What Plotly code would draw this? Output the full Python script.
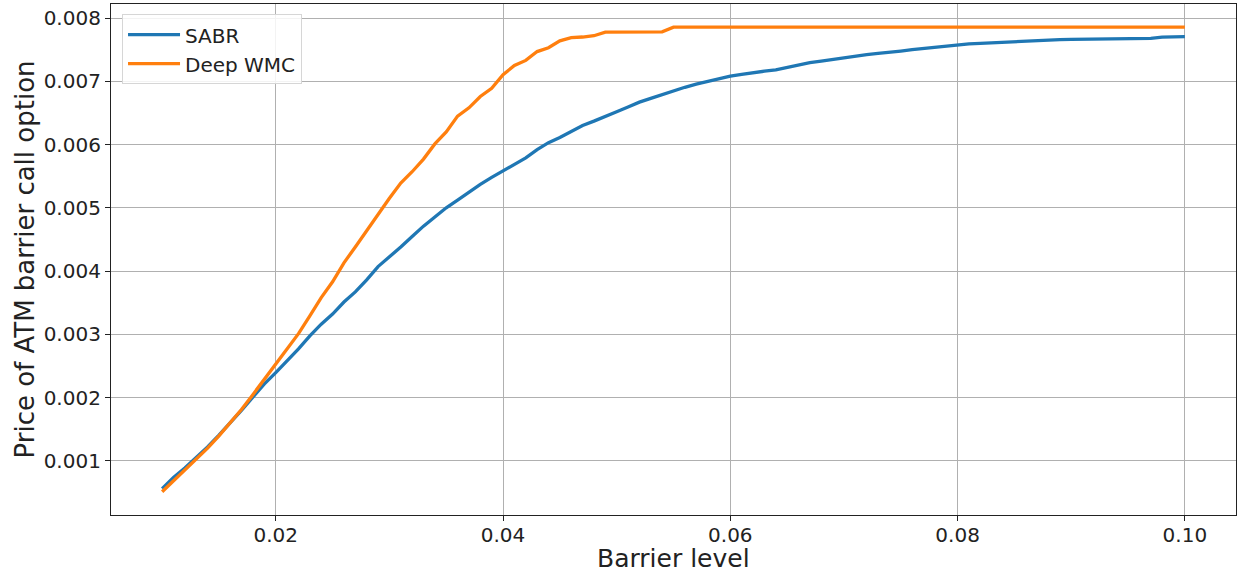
import plotly.graph_objects as go

barrier = [0.010, 0.011, 0.012, 0.013, 0.014, 0.015, 0.016, 0.017, 0.018, 0.019,
           0.020, 0.021, 0.022, 0.023, 0.024, 0.025, 0.026, 0.027, 0.028, 0.029,
           0.030, 0.031, 0.032, 0.033, 0.034, 0.035, 0.036, 0.037, 0.038, 0.039,
           0.040, 0.041, 0.042, 0.043, 0.044, 0.045, 0.046, 0.047, 0.048, 0.049,
           0.050, 0.051, 0.052, 0.053, 0.054, 0.055, 0.056, 0.057, 0.058, 0.059,
           0.060, 0.061, 0.062, 0.063, 0.064, 0.065, 0.066, 0.067, 0.068, 0.069,
           0.070, 0.071, 0.072, 0.073, 0.074, 0.075, 0.076, 0.077, 0.078, 0.079,
           0.080, 0.081, 0.082, 0.083, 0.084, 0.085, 0.086, 0.087, 0.088, 0.089,
           0.090, 0.091, 0.092, 0.093, 0.094, 0.095, 0.096, 0.097, 0.098, 0.099,
           0.100]

sabr = [0.000560, 0.000735, 0.000885, 0.001050, 0.001220, 0.001405, 0.001600, 0.001800, 0.002010, 0.002215,
        0.002395, 0.002580, 0.002770, 0.002975, 0.003160, 0.003320, 0.003510, 0.003670, 0.003860, 0.004070,
        0.004220, 0.004380, 0.004545, 0.004710, 0.004855, 0.005000, 0.005120, 0.005250, 0.005370, 0.005480,
        0.005580, 0.005690, 0.005790, 0.005920, 0.006030, 0.006110, 0.006200, 0.006300, 0.006370, 0.006440,
        0.006520, 0.006595, 0.006670, 0.006730, 0.006790, 0.006850, 0.006905, 0.006955, 0.007000, 0.007040,
        0.007080, 0.007110, 0.007140, 0.007160, 0.007180, 0.007220, 0.007260, 0.007295, 0.007320, 0.007345,
        0.007380, 0.007405, 0.007420, 0.007440, 0.007465, 0.007478, 0.007500, 0.007520, 0.007540, 0.007560,
        0.007579, 0.007590, 0.007600, 0.007610, 0.007618, 0.007625, 0.007635, 0.007645, 0.007655, 0.007660,
        0.007663, 0.007665, 0.007666, 0.007667, 0.007668, 0.007670, 0.007672, 0.007678, 0.007698, 0.007703,
        0.007705]

deep_wmc = [0.000510, 0.000680, 0.000850, 0.001030, 0.001200, 0.001395, 0.001600, 0.001815, 0.002050, 0.002290,
            0.002526, 0.002760, 0.003010, 0.003290, 0.003580, 0.003830, 0.004130, 0.004380, 0.004640, 0.004900,
            0.005150, 0.005390, 0.005570, 0.005770, 0.006010, 0.006200, 0.006450, 0.006580, 0.006760, 0.006890,
            0.007105, 0.007250, 0.007330, 0.007470, 0.007530, 0.007640, 0.007690, 0.007700, 0.007720, 0.007778,
            0.007780, 0.007780, 0.007780, 0.007780, 0.007782, 0.007855, 0.007855, 0.007855, 0.007855, 0.007855,
            0.007855, 0.007855, 0.007855, 0.007855, 0.007855, 0.007855, 0.007855, 0.007855, 0.007855, 0.007855,
            0.007855, 0.007855, 0.007855, 0.007855, 0.007855, 0.007855, 0.007855, 0.007855, 0.007855, 0.007855,
            0.007855, 0.007855, 0.007855, 0.007855, 0.007855, 0.007855, 0.007855, 0.007855, 0.007855, 0.007855,
            0.007855, 0.007855, 0.007855, 0.007855, 0.007855, 0.007855, 0.007855, 0.007855, 0.007855, 0.007855,
            0.007855]

x_ticks = [0.02, 0.04, 0.06, 0.08, 0.10]
x_tick_labels = ["0.02", "0.04", "0.06", "0.08", "0.10"]
y_ticks = [0.001, 0.002, 0.003, 0.004, 0.005, 0.006, 0.007, 0.008]
y_tick_labels = ["0.001", "0.002", "0.003", "0.004", "0.005", "0.006", "0.007", "0.008"]
x_title = "Barrier level"
y_title = "Price of ATM barrier call option"

fig = go.Figure()
fig.add_trace(go.Scatter(x=barrier, y=sabr, mode="lines", name="SABR",
                         line=dict(color="#1f77b4", width=3.3)))
fig.add_trace(go.Scatter(x=barrier, y=deep_wmc, mode="lines", name="Deep WMC",
                         line=dict(color="#ff7f0e", width=3.3)))

font_family = "DejaVu Sans"
fig.update_layout(
    width=1239, height=575,
    margin=dict(l=111, r=3, t=4, b=60),
    paper_bgcolor="white", plot_bgcolor="white",
    font=dict(family=font_family, color="#222222", size=20),
    showlegend=True,
    legend=dict(x=0.0098, y=0.98, xanchor="left", yanchor="top",
                bgcolor="rgba(255,255,255,0.85)", bordercolor="#d6d6d6", borderwidth=1,
                font=dict(family=font_family, size=20, color="#222222"),
                itemwidth=52, tracegroupgap=0),
)
fig.update_xaxes(
    range=[0.0055, 0.1045], automargin=False,
    tickvals=x_ticks, ticktext=x_tick_labels,
    showgrid=True, gridcolor="#b0b0b0", gridwidth=1,
    showline=True, linecolor="#222222", linewidth=1.2, mirror=True,
    ticks="outside", ticklen=5, tickcolor="#222222", zeroline=False,
    ticklabelstandoff=-3,
    tickfont=dict(family=font_family, size=20),
)
fig.update_yaxes(
    range=[0.000143, 0.008222], automargin=False,
    tickvals=y_ticks, ticktext=y_tick_labels,
    showgrid=True, gridcolor="#b0b0b0", gridwidth=1,
    showline=True, linecolor="#222222", linewidth=1.2, mirror=True,
    ticks="outside", ticklen=5, tickcolor="#222222", zeroline=False,
    tickfont=dict(family=font_family, size=20),
)

fig.add_annotation(text=x_title, xref="paper", yref="paper", x=0.5, y=0,
                   xanchor="center", yanchor="bottom", yshift=-60, showarrow=False,
                   font=dict(family=font_family, size=25, color="#222222"))
fig.add_annotation(text=y_title, xref="paper", yref="paper", x=0, y=0.5,
                   xanchor="right", yanchor="middle", xshift=-70, textangle=-90,
                   showarrow=False,
                   font=dict(family=font_family, size=26, color="#222222"))

fig.write_html("out.html", config={"displayModeBar": False},
               post_script="document.body.style.margin='0px';")
